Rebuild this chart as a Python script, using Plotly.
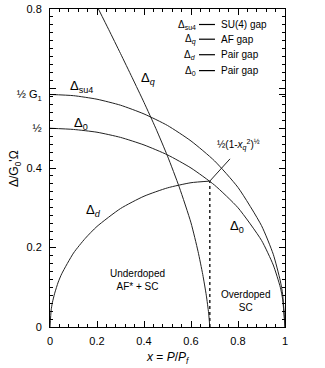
import plotly.graph_objects as go

# ---- data ----
x0 = [0, 0.1, 0.2, 0.3, 0.4, 0.5, 0.6, 0.7, 0.8, 0.9, 0.95, 0.98, 0.99, 1.0]
delta0 = [0.5, 0.497, 0.49, 0.477, 0.458, 0.433, 0.40, 0.357, 0.30, 0.218, 0.156, 0.10, 0.07, 0.0]

xsu4 = [0, 0.1, 0.2, 0.3, 0.4, 0.5, 0.6, 0.7, 0.8, 0.9, 0.95, 0.98, 0.99, 1.0]
delta_su4 = [0.585, 0.582, 0.573, 0.558, 0.536, 0.507, 0.468, 0.418, 0.351, 0.255, 0.183, 0.116, 0.082, 0.0]

xq_pts = [0.206, 0.25, 0.3, 0.35, 0.4, 0.45, 0.5, 0.55, 0.6, 0.63, 0.65, 0.665, 0.675, 0.68]
delta_q = [0.8, 0.748, 0.688, 0.627, 0.565, 0.50, 0.43, 0.352, 0.262, 0.19, 0.132, 0.08, 0.035, 0.0]

xd = [0, 0.005, 0.01, 0.02, 0.035, 0.05, 0.1, 0.15, 0.2, 0.3, 0.4, 0.5, 0.6, 0.68]
delta_d = [0, 0.043, 0.061, 0.085, 0.113, 0.134, 0.186, 0.223, 0.253, 0.298, 0.329, 0.350, 0.363, 0.367]

x_q = 0.68
gap_at_xq = 0.367

xtick_vals = [0, 0.2, 0.4, 0.6, 0.8, 1.0]
xtick_text = ["0", "0.2", "0.4", "0.6", "0.8", "1"]
ytick_vals = [0, 0.2, 0.4, 0.5, 0.585, 0.6, 0.8]
ytick_text = ["0", "0.2", "0.4", "½", "½ G<sub>1</sub>", "", "0.8"]

legend_sym = ["Δ<sub>su4</sub>", "Δ<sub><i>q</i></sub>", "Δ<sub><i>d</i></sub>", "Δ<sub>0</sub>"]
legend_txt = ["SU(4) gap", "AF gap", "Pair gap", "Pair gap"]
legend_y = [0.761, 0.724, 0.685, 0.645]

FONT = "Liberation Sans, Arial, Helvetica, sans-serif"
LC = "#222222"

fig = go.Figure()
for xs, ys in [(x0, delta0), (xsu4, delta_su4), (xq_pts, delta_q), (xd, delta_d)]:
    fig.add_trace(go.Scatter(x=xs, y=ys, mode="lines", line=dict(color=LC, width=1, shape="spline", smoothing=0.6),
                             showlegend=False, hoverinfo="skip"))

# dotted vertical line at x_q
fig.add_trace(go.Scatter(x=[x_q, x_q], y=[0, gap_at_xq], mode="lines",
                         line=dict(color=LC, width=1.5, dash="dot"), showlegend=False, hoverinfo="skip"))
# pointer line
fig.add_trace(go.Scatter(x=[x_q, 0.766], y=[gap_at_xq, 0.423], mode="lines",
                         line=dict(color=LC, width=1), showlegend=False, hoverinfo="skip"))

ann = []
def A(x, y, t, size=12, xanchor="center", yanchor="middle", xref="x", yref="y", angle=0):
    ann.append(dict(x=x, y=y, text=t, showarrow=False, xref=xref, yref=yref, textangle=angle,
                    font=dict(family=FONT, size=size, color="black"), xanchor=xanchor, yanchor=yanchor))

A(0.132, 0.604, "Δ<sub>su4</sub>", size=13)
A(0.132, 0.513, "Δ<sub>0</sub>", size=13)
A(0.417, 0.624, "Δ<sub><i>q</i></sub>", size=13)
A(0.187, 0.292, "Δ<sub><i>d</i></sub>", size=13)
A(0.797, 0.252, "Δ<sub>0</sub>", size=13)
A(0.372, 0.117, "Underdoped<br>AF* + SC", size=10)
A(0.832, 0.066, "Overdoped<br>SC", size=10)
A(0.70, 0.458, "½(1-<i>x</i><sub><i>q</i></sub><sup>2</sup>)<sup>½</sup>", size=10, xanchor="left")

for s, t, yy in zip(legend_sym, legend_txt, legend_y):
    A(0.628, yy, s, size=10, xanchor="right")
    A(0.717, yy, t, size=10, xanchor="left")
    fig.add_shape(type="line", x0=0.634, x1=0.702, y0=yy, y1=yy, xref="x", yref="y",
                  line=dict(color="black", width=1.2))

# axis titles as annotations (paper coords)
A(0.5, -0.0975, "<i>x</i> = <i>P</i>/<i>P<sub>f</sub></i>", size=12, xref="paper", yref="paper")
A(-0.149, 0.5, "Δ/G<sub>0</sub>'Ω", size=12, xref="paper", yref="paper", angle=-90)

common = dict(ticks="inside", ticklen=6, tickcolor="black", showline=True, linecolor="black", linewidth=1,
              showgrid=False, zeroline=False, automargin=False)

fig.update_layout(
    width=325, height=368,
    margin=dict(l=50, r=40, t=9, b=41),
    paper_bgcolor="white", plot_bgcolor="white",
    font=dict(family=FONT, size=11, color="black"),
    annotations=ann,
    xaxis=dict(range=[0, 1], tickmode="array", tickvals=xtick_vals, ticktext=xtick_text,
               ticklabelstandoff=4,
               minor=dict(tickmode="linear", dtick=0.04, tick0=0, ticks="inside", ticklen=3,
                          tickcolor="black", showgrid=False),
               tickfont=dict(size=11), **common),
    xaxis2=dict(range=[0, 1], overlaying="x", side="top", tickmode="array", tickvals=xtick_vals,
                showticklabels=False,
                minor=dict(tickmode="linear", dtick=0.04, tick0=0, ticks="inside", ticklen=3,
                           tickcolor="black", showgrid=False), **common),
    yaxis=dict(range=[0, 0.8], tickmode="array", tickvals=ytick_vals, ticktext=ytick_text,
               ticklabelstandoff=5,
               minor=dict(tickmode="linear", dtick=0.02, tick0=0, ticks="inside", ticklen=3,
                          tickcolor="black", showgrid=False),
               tickfont=dict(size=11), **common),
    yaxis2=dict(range=[0, 0.8], overlaying="y", side="right", tickmode="array", tickvals=ytick_vals,
                showticklabels=False,
                minor=dict(tickmode="linear", dtick=0.02, tick0=0, ticks="inside", ticklen=3,
                           tickcolor="black", showgrid=False), **common),
)
# invisible trace to activate the mirror axes
fig.add_trace(go.Scatter(x=[0], y=[0], xaxis="x2", yaxis="y2", mode="markers",
                         marker=dict(opacity=0), showlegend=False, hoverinfo="skip"))

fig.write_html("out.html", config={"displayModeBar": False},
               post_script="document.body.style.margin='0';document.body.style.overflow='hidden';")
